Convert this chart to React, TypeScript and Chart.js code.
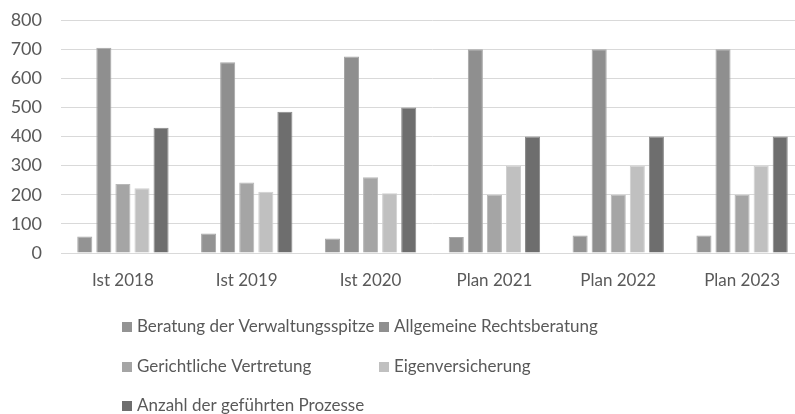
import React, { useEffect, useRef } from "react";
import { Chart, registerables } from "chart.js";

Chart.register(...registerables);

const categories = ["Ist 2018", "Ist 2019", "Ist 2020", "Plan 2021", "Plan 2022", "Plan 2023"];
const seriesNames = [
  "Beratung der Verwaltungsspitze",
  "Allgemeine Rechtsberatung",
  "Gerichtliche Vertretung",
  "Eigenversicherung",
  "Anzahl der geführten Prozesse",
];
const beratungVerwaltungsspitze = [57, 67, 50, 55, 60, 60];
const allgemeineRechtsberatung = [705, 655, 675, 700, 700, 700];
const gerichtlicheVertretung = [237, 242, 260, 200, 200, 200];
const eigenversicherung = [222, 210, 205, 300, 300, 300];
const gefuehrteProzesse = [430, 485, 500, 400, 400, 400];
const yTicks = [0, 100, 200, 300, 400, 500, 600, 700, 800];

const seriesValues = [
  beratungVerwaltungsspitze,
  allgemeineRechtsberatung,
  gerichtlicheVertretung,
  eigenversicherung,
  gefuehrteProzesse,
];
const seriesColors = ["#939393", "#8f8f8f", "#a5a5a5", "#c0c0c0", "#6e6e6e"];
const seriesBorders = ["#a8a8a8", "#a6a6a6", "#b8b8b8", "#cfcfcf", "#8a8a8a"];

const FONT = "Lato, 'Open Sans', sans-serif";
const TEXT = "#595959";

const gridLegend = {
  id: "gridLegend",
  afterDraw(chart: any) {
    const ctx = chart.ctx;
    const colX = [122, 379];
    const rowY = [327, 367, 406];
    ctx.save();
    ctx.font = `17px ${FONT}`;
    ctx.textBaseline = "middle";
    ctx.textAlign = "left";
    chart.data.datasets.forEach((ds: any, i: number) => {
      const x = colX[i % 2];
      const y = rowY[Math.floor(i / 2)];
      ctx.fillStyle = ds.backgroundColor;
      ctx.fillRect(x, y - 5, 10, 10);
      ctx.fillStyle = TEXT;
      ctx.fillText(ds.label, x + 15, y);
    });
    ctx.restore();
  },
};

export default function App() {
  const ref = useRef<HTMLCanvasElement>(null);
  useEffect(() => {
    if (!ref.current) return;
    const chart = new Chart(ref.current, {
      type: "bar",
      data: {
        labels: categories,
        datasets: seriesNames.map((name, i) => ({
          label: name,
          data: seriesValues[i],
          backgroundColor: seriesColors[i],
          borderColor: seriesBorders[i],
          borderWidth: 1,
          categoryPercentage: 0.77,
          barPercentage: 0.79,
        })),
      },
      options: {
        animation: false,
        responsive: false,
        devicePixelRatio: 1,
        layout: { padding: { top: 20, left: 0, right: 0, bottom: 121 } },
        plugins: {
          legend: { display: false },
          tooltip: { enabled: false },
        },
        scales: {
          x: {
            grid: { display: false, drawTicks: false },
            border: { display: true, color: "#d9d9d9" },
            ticks: { color: TEXT, font: { family: FONT, size: 17 }, padding: 17, maxRotation: 0 },
            afterFit: (s: any) => {
              s.height = 40;
              s.paddingLeft = 0;
              s.paddingRight = 0;
            },
          },
          y: {
            min: 0,
            max: 800,
            afterBuildTicks: (s: any) => {
              s.ticks = yTicks.map((v) => ({ value: v }));
            },
            grid: { color: "#d9d9d9", drawTicks: false },
            border: { display: false },
            ticks: { color: TEXT, font: { family: FONT, size: 18 }, padding: 19 },
            afterFit: (s: any) => {
              s.width = 61;
              s.paddingTop = 0;
              s.paddingBottom = 0;
            },
          },
        },
      },
      plugins: [gridLegend],
    });
    return () => chart.destroy();
  }, []);
  return (
    <div style={{ position: "fixed", left: 0, top: 0, width: 795, height: 414, overflow: "hidden", background: "#fff" }}>
      <canvas ref={ref} width={804} height={414} style={{ display: "block" }} />
    </div>
  );
}
